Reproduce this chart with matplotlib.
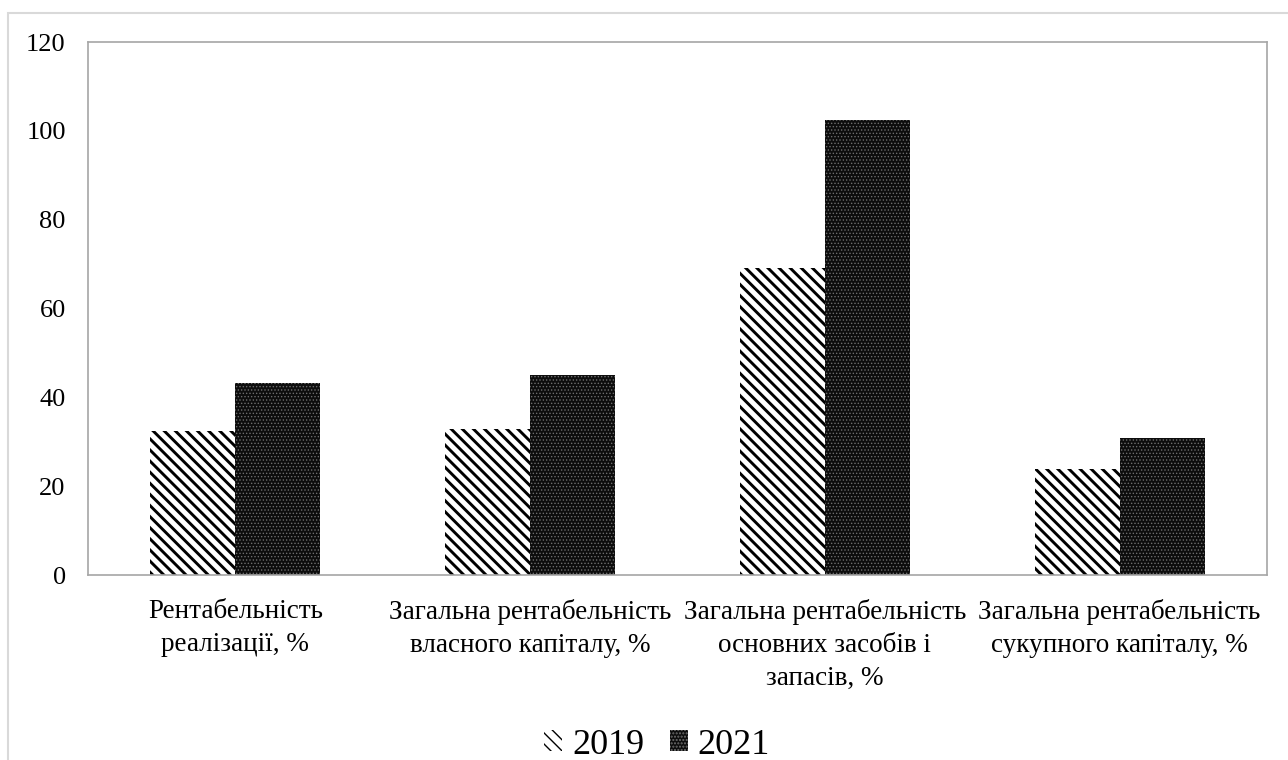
import matplotlib
matplotlib.use("Agg")
import matplotlib.pyplot as plt
import numpy as np
from matplotlib.patches import Rectangle

categories = [
    "Рентабельність\nреалізації, %",
    "Загальна рентабельність\nвласного капіталу, %",
    "Загальна рентабельність\nосновних засобів і\nзапасів, %",
    "Загальна рентабельність\nсукупного капіталу, %",
]
values_2019 = [32.4, 32.9, 69.1, 23.9]
values_2021 = [43.2, 45.0, 102.5, 30.9]
series_labels = ["2019", "2021"]
y_ticks = [0, 20, 40, 60, 80, 100, 120]

plt.rcParams["font.family"] = ["Liberation Serif", "DejaVu Serif"]

fig = plt.figure(figsize=(12.88, 7.6), dpi=100)
ax = fig.add_axes([0.0683, 0.2434, 0.9154, 0.7013])

# light outer border around the whole chart
fig.patches.append(Rectangle((8 / 1288, -0.01), 1.1, (760 - 13) / 760 + 0.01,
                             transform=fig.transFigure, fill=False,
                             edgecolor="#d9d9d9", linewidth=1.5))

x = np.arange(len(categories))
w = 0.288
with plt.rc_context({"hatch.linewidth": 2.1}):
    b1 = ax.bar(x - w / 2, values_2019, w, color="white", edgecolor="black",
                hatch="\\\\\\", linewidth=0, label=series_labels[0])
with plt.rc_context({"hatch.linewidth": 0.6}):
    b2 = ax.bar(x + w / 2, values_2021, w, color="#0d0d0d", edgecolor="#6e6e6e",
                hatch=".....", linewidth=0, label=series_labels[1])

ax.set_xlim(-0.5, len(categories) - 0.5)
ax.set_ylim(0, 120)
ax.set_yticks(y_ticks)
ax.set_yticklabels([str(t) for t in y_ticks], fontsize=19)
ax.set_xticks(x)
ax.set_xticklabels(categories, fontsize=19.5, linespacing=1.42)
ax.tick_params(axis="x", length=0, pad=17)
ax.tick_params(axis="y", length=0, pad=16)
for s in ax.spines.values():
    s.set_color("#a6a6a6")
    s.set_linewidth(1.2)

leg = fig.legend(handles=[b1, b2], labels=series_labels, loc="center",
                 bbox_to_anchor=(657 / 1288, (760 - 745) / 760),
                 bbox_transform=fig.transFigure,
                 ncol=2, frameon=False, fontsize=26, handlelength=0.5,
                 handleheight=0.5, handletextpad=0.28, columnspacing=0.7)

fig.savefig("out.png", dpi=100)
